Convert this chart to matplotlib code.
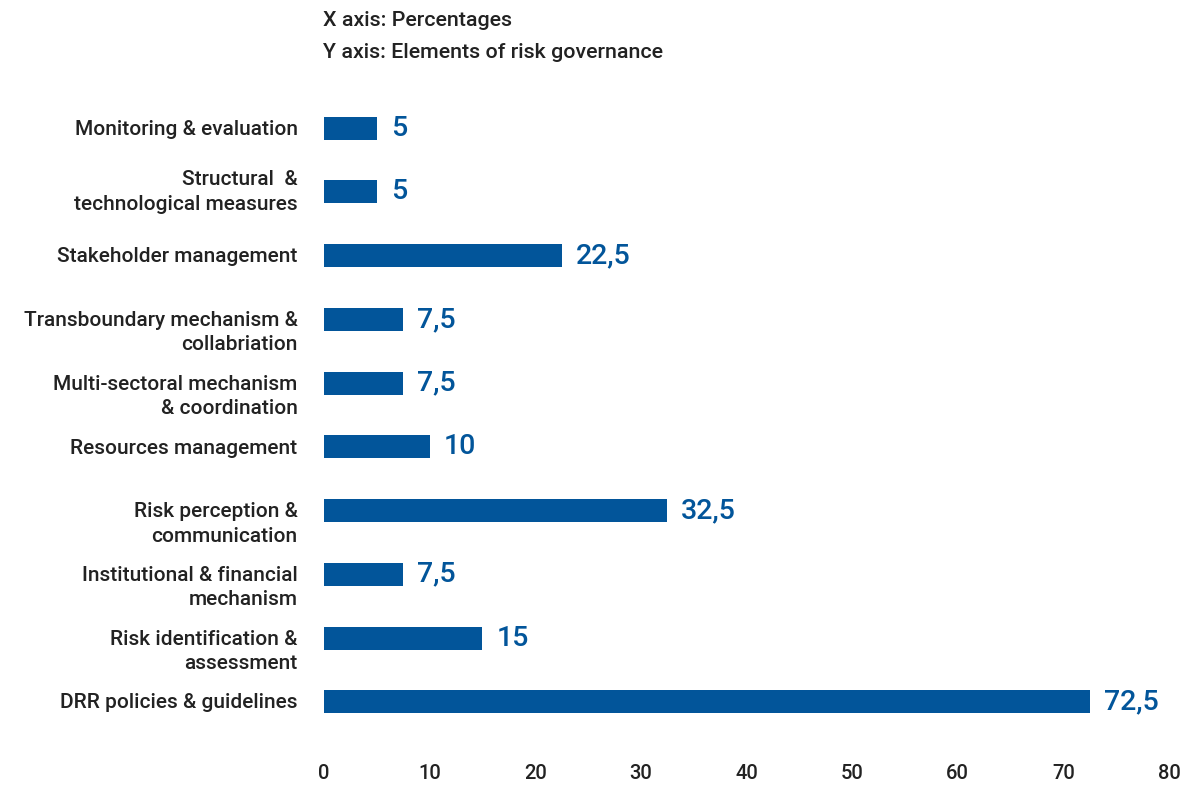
import matplotlib
matplotlib.use("Agg")
import matplotlib.pyplot as plt

# data (bottom to top)
categories = [
    "DRR policies & guidelines",
    "Risk identification &\nassessment",
    "Institutional & financial\nmechanism",
    "Risk perception &\ncommunication",
    "Resources management",
    "Multi-sectoral mechanism\n& coordination",
    "Transboundary mechanism &\ncollabriation",
    "Stakeholder management",
    "Structural  &\ntechnological measures",
    "Monitoring & evaluation",
]
values = [72.5, 15, 7.5, 32.5, 10, 7.5, 7.5, 22.5, 5, 5]
xticks = [0, 10, 20, 30, 40, 50, 60, 70, 80]

blue = "#02559A"
dark = "#222222"

plt.rcParams['font.family'] = ['Roboto', 'DejaVu Sans']
plt.rcParams['font.weight'] = 'medium'

fig = plt.figure(figsize=(11.82, 7.87), dpi=100)
ax = fig.add_axes([324 / 1182, (787 - 740) / 787, 845 / 1182, 650 / 787])

pos = list(range(len(values)))
ax.barh(pos, values, height=0.36, color=blue)

# value labels with decimal comma
for y, v in zip(pos, values):
    txt = ("%g" % v).replace(".", ",")
    ax.annotate(txt, (v, y), xytext=(10, 0), textcoords="offset points",
                va="center", ha="left", fontsize=20.5, color=blue,
                fontweight="medium")

# category labels: first line lines up with the bar
for y, lab in zip(pos, categories):
    if lab.startswith("Structural"):
        ax.annotate(lab, (0, y), xytext=(-19, 0), textcoords="offset points",
                    va="center", ha="right", fontsize=15, color=dark,
                    linespacing=1.35, annotation_clip=False)
    else:
        ax.annotate(lab, (0, y), xytext=(-19, 6), textcoords="offset points",
                    va="top", ha="right", fontsize=15, color=dark,
                    linespacing=1.35, annotation_clip=False)

ax.set_xlim(0, 80)
ax.set_ylim(-0.6, 9.6)
ax.set_xticks(xticks)
ax.set_xticklabels([str(t) for t in xticks], fontsize=14.5, color=dark,
                   fontweight="medium")
ax.set_yticks([])

ax.tick_params(axis="both", length=0)
ax.tick_params(axis="x", pad=17)
for s in ax.spines.values():
    s.set_visible(False)

fig.text(323 / 1182, 1 - 20 / 787, "X axis: Percentages", fontsize=15.4,
         color=dark, va="center", ha="left", fontweight="medium")
fig.text(323 / 1182, 1 - 53 / 787, "Y axis: Elements of risk governance",
         fontsize=15.4, color=dark, va="center", ha="left", fontweight="medium")

fig.savefig("out.png", dpi=100)
